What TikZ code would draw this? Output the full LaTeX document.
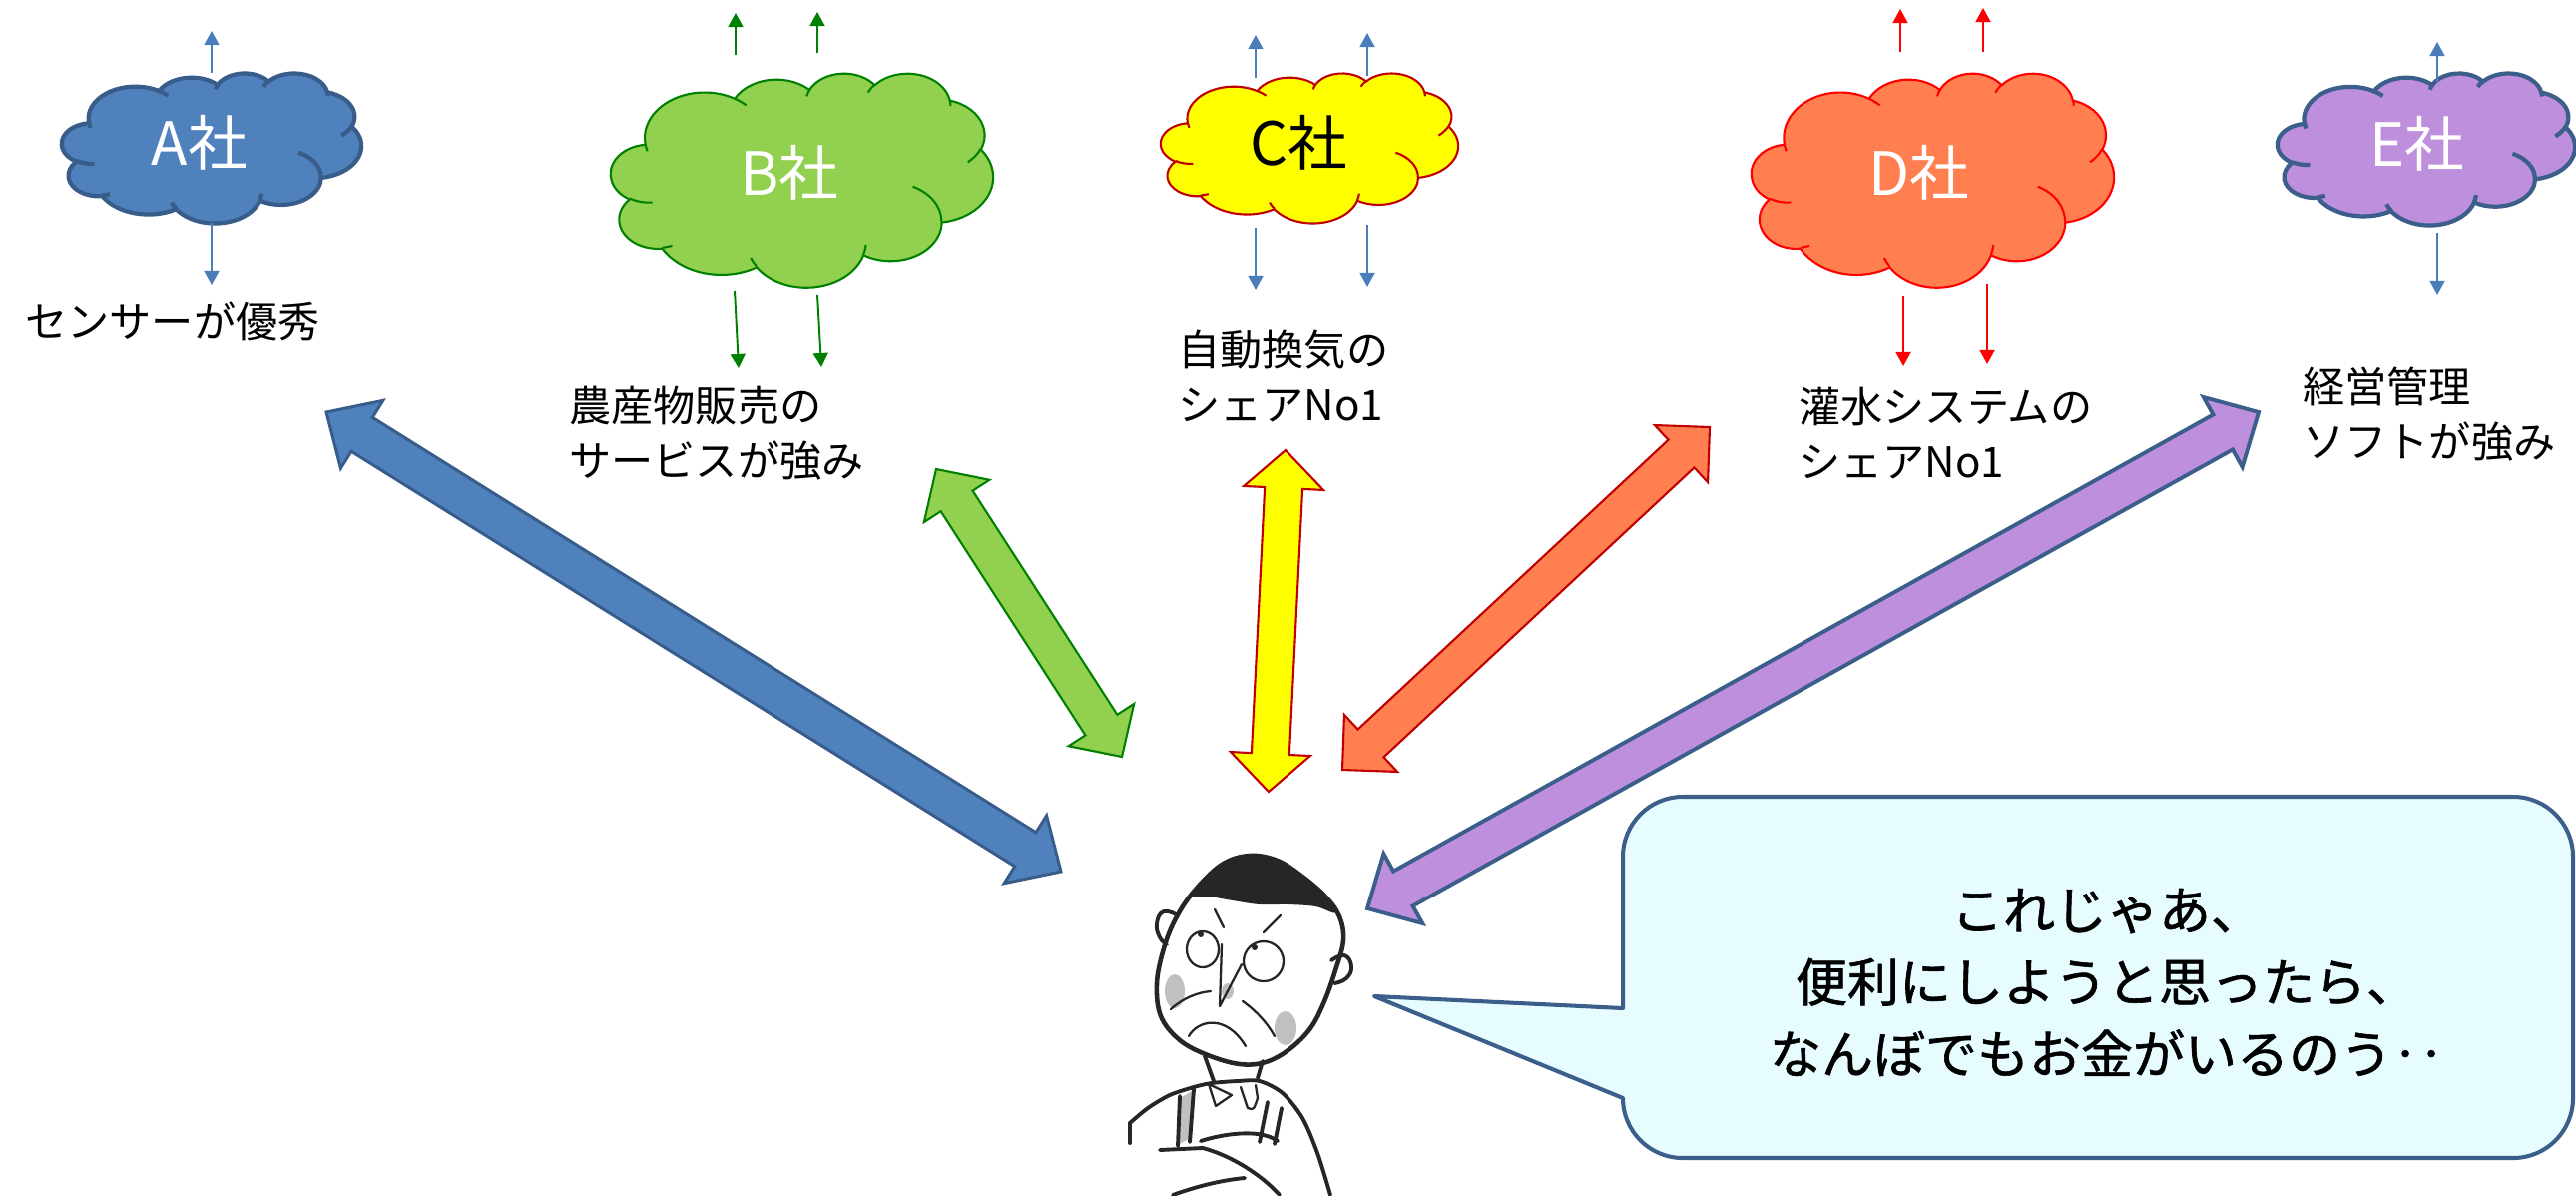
\documentclass[tikz,border=0pt]{standalone}
\usepackage{fontspec}
\newfontfamily\jp{Noto Sans CJK JP}
\newfontfamily\jpheavy[FakeBold=1.2]{Noto Sans CJK JP}
\usetikzlibrary{arrows.meta,calc}

\definecolor{blueFill}{HTML}{4F81BD}
\definecolor{blueLine}{HTML}{385D8A}
\definecolor{greenFill}{HTML}{92D050}
\definecolor{greenLine}{HTML}{008000}
\definecolor{yellowFill}{HTML}{FFFF00}
\definecolor{darkRed}{HTML}{C00000}
\definecolor{coralFill}{HTML}{FF7F50}
\definecolor{brightRed}{HTML}{FF0000}
\definecolor{lilacFill}{HTML}{BE8FDD}
\definecolor{slateLine}{HTML}{3B5F8A}
\definecolor{thinBlue}{HTML}{4A7EBB}
\definecolor{bubbleFill}{HTML}{E6FCFF}

\tikzset{
  % elliptic arc given by radii, start angle and sweep measured as ray angles
  carc/.style n args={4}{insert path={arc[x radius=#1,y radius=#2,
      start angle={atan2(#1*sin(#3),#2*cos(#3))},
      delta angle={mod(atan2(#1*sin(#3+#4),#2*cos(#3+#4))-atan2(#1*sin(#3),#2*cos(#3))+720,360)}]}},
  thinarrow/.style={line width=1.1pt,-{Triangle[length=8pt,width=8.5pt]}},
  company/.style={font=\jp\fontsize{34}{40}\selectfont,inner sep=0pt},
  strength/.style={font=\jp\fontsize{24}{31}\selectfont,align=left,inner sep=0pt,anchor=west},
  ink/.style={draw=black!85,line width=2.2pt,line cap=round,line join=round},
  fineink/.style={draw=black!85,line width=1.3pt,line cap=round,line join=round},
  wash/.style={fill=black!45,draw=none,opacity=0.55},
}

% cloud outline in a 432 x 432 box, scaled to width #4 and height #5 at top-left (#2,#3)
\newcommand\cloudshape[5]{%
  \begin{scope}[shift={(#2,#3)},xscale={#4/432},yscale={#5/432}]
    \path[#1] (39.00,143.70)
      [carc={67.53}{91.90}{-190.4875}{123.7805}]
      [carc={53.33}{72.67}{-144.1024}{89.9452}]
      [carc={43.65}{59.45}{-145.8079}{99.7230}]
      [carc={48.57}{65.95}{-130.9861}{117.2417}]
      [carc={53.33}{72.73}{-78.7089}{109.0269}]
      [carc={67.75}{92.20}{-46.2673}{130.2690}]
      [carc={57.85}{78.67}{0.6250}{114.0333}]
      [carc={67.52}{92.15}{22.4516}{115.1726}]
      [carc={77.20}{105.43}{66.2426}{75.7110}]
      [carc={43.60}{59.18}{-274.9421}{146.7356}]
      [carc={43.45}{59.45}{-246.8285}{152.5189}]
      -- cycle;
    \path[#1,fill=none]
      (46.93,261.77) [carc={43.45}{59.45}{86.7420}{26.4295}]
      (69.28,348.99) [carc={43.60}{59.18}{73.6105}{11.4475}]
      (164.78,390.90) [carc={67.52}{92.15}{137.6242}{14.0811}]
      (288.27,347.51) [carc={67.52}{92.15}{6.4533}{15.9984}]
      (341.29,229.54) [carc={57.85}{78.67}{-70.2924}{70.9174}]
      (417.98,153.54) [carc={53.33}{72.73}{30.3180}{27.7515}]
      (383.24,54.26) [carc={48.57}{65.95}{-13.7443}{14.8646}]
      (290.78,39.52) [carc={48.57}{65.95}{-149.1815}{18.1844}]
      (221.41,47.20) [carc={43.65}{59.45}{-163.4943}{17.6995}]
      (140.00,51.92) [carc={67.53}{91.90}{-66.7070}{12.3194}]
      (41.27,157.89) [carc={67.53}{91.90}{157.6544}{11.8582}];
  \end{scope}}

% block arrow with heads at both ends: style, tip, tip, shaft half width, head half width, head length (px)
\newcommand\dblarrow[6]{%
  \pgfmathsetlengthmacro\shw{#4*0.569055pt}%
  \pgfmathsetlengthmacro\hhw{#5*0.569055pt}%
  \pgfmathsetlengthmacro\hlen{#6*0.569055pt}%
  \path ($(#2)!\hlen!(#3)$) coordinate (h1) ($(#3)!\hlen!(#2)$) coordinate (h2);
  \draw[#1] (#2) -- ($(h1)!\hhw!90:(#3)$) -- ($(h1)!\shw!90:(#3)$)
    -- ($(h2)!\shw!-90:(#2)$) -- ($(h2)!\hhw!-90:(#2)$) -- (#3)
    -- ($(h2)!\hhw!90:(#2)$) -- ($(h2)!\shw!90:(#2)$)
    -- ($(h1)!\shw!-90:(#3)$) -- ($(h1)!\hhw!-90:(#3)$) -- cycle;
}

\begin{document}
\begin{tikzpicture}[x=0.02cm,y=-0.02cm]
\useasboundingbox (0,0) rectangle (2581,1197);

% ---- clouds ----
\cloudshape{fill=blueFill,draw=blueLine,line width=2.4pt}{62}{73}{300}{150}
\cloudshape{fill=greenFill,draw=greenLine,line width=1.2pt}{612}{73}{383}{214}
\cloudshape{fill=yellowFill,draw=darkRed,line width=1.2pt}{1163}{73}{298}{150}
\cloudshape{fill=coralFill,draw=brightRed,line width=1.2pt}{1755}{73}{363}{214}
\cloudshape{fill=lilacFill,draw=slateLine,line width=2.4pt}{2282}{73}{298}{152}

\node[company,text=white] (coA) at (200,143) {A社};
\node[company,text=white] (coB) at (791,173) {B社};
\node[company,text=black] (coC) at (1301,143) {C社};
\node[company,text=white] (coD) at (1923,173) {D社};
\node[company,text=white] (coE) at (2422,144) {E社};

% ---- small arrows out of each cloud ----
\coordinate (aU0) at (212,73);   \coordinate (aU1) at (212,31);
\coordinate (aD0) at (212,223);  \coordinate (aD1) at (212,285);
\draw[thinarrow,thinBlue] (aU0) -- (aU1);
\draw[thinarrow,thinBlue] (aD0) -- (aD1);

\coordinate (bU0) at (737,55);  \coordinate (bU1) at (737,13);
\coordinate (bV0) at (819,53);  \coordinate (bV1) at (819,12);
\coordinate (bD0) at (736,291); \coordinate (bD1) at (740,369);
\coordinate (bE0) at (819,295); \coordinate (bE1) at (823,368);
\draw[thinarrow,greenLine] (bU0) -- (bU1);
\draw[thinarrow,greenLine] (bV0) -- (bV1);
\draw[thinarrow,greenLine] (bD0) -- (bD1);
\draw[thinarrow,greenLine] (bE0) -- (bE1);

\coordinate (cU0) at (1258,78);  \coordinate (cU1) at (1258,35);
\coordinate (cV0) at (1370,76);  \coordinate (cV1) at (1370,33);
\coordinate (cD0) at (1258,228); \coordinate (cD1) at (1258,290);
\coordinate (cE0) at (1370,225); \coordinate (cE1) at (1370,287);
\draw[thinarrow,thinBlue] (cU0) -- (cU1);
\draw[thinarrow,thinBlue] (cV0) -- (cV1);
\draw[thinarrow,thinBlue] (cD0) -- (cD1);
\draw[thinarrow,thinBlue] (cE0) -- (cE1);

\coordinate (dU0) at (1904,52);  \coordinate (dU1) at (1904,9);
\coordinate (dV0) at (1987,52);  \coordinate (dV1) at (1987,8);
\coordinate (dD0) at (1907,296); \coordinate (dD1) at (1907,367);
\coordinate (dE0) at (1991,284); \coordinate (dE1) at (1991,365);
\draw[thinarrow,brightRed] (dU0) -- (dU1);
\draw[thinarrow,brightRed] (dV0) -- (dV1);
\draw[thinarrow,brightRed] (dD0) -- (dD1);
\draw[thinarrow,brightRed] (dE0) -- (dE1);

\coordinate (eU0) at (2442,82);  \coordinate (eU1) at (2442,42);
\coordinate (eD0) at (2442,233); \coordinate (eD1) at (2442,295);
\draw[thinarrow,thinBlue] (eU0) -- (eU1);
\draw[thinarrow,thinBlue] (eD0) -- (eD1);

% ---- strengths ----
\node[strength] (labA) at (25,322) {センサーが優秀};
\node[strength] (labB) at (570,434) {農産物販売の\\サービスが強み};
\node[strength] (labC) at (1180,377) {自動換気の\\シェアNo1};
\node[strength] (labD) at (1802,434) {灌水システムの\\シェアNo1};
\node[strength] (labE) at (2307,415) {経営管理\\ソフトが強み};

% ---- double arrows between each company and the farmer ----
\coordinate (pA) at (327,413);  \coordinate (mA) at (1063,873);
\coordinate (pB) at (938,470);  \coordinate (mB) at (1124,758);
\coordinate (pC) at (1288,451); \coordinate (mC) at (1271,793);
\coordinate (pD) at (1713,428); \coordinate (mD) at (1345,771);
\coordinate (pE) at (2263,413); \coordinate (mE) at (1370,910);
\dblarrow{fill=blueFill,draw=blueLine,line width=1.7pt}{pA}{mA}{20}{40}{42}
\dblarrow{fill=greenFill,draw=greenLine,line width=1.2pt}{pB}{mB}{19}{39}{38}
\dblarrow{fill=yellowFill,draw=darkRed,line width=1.2pt}{pC}{mC}{19}{40}{38}
\dblarrow{fill=coralFill,draw=darkRed,line width=1.2pt}{pD}{mD}{19}{39}{39}
\dblarrow{fill=lilacFill,draw=slateLine,line width=2.2pt}{pE}{mE}{20}{40}{41}

% ---- the farmer ----
\fill[wash] (1177,993) ellipse[x radius=10,y radius=17];
\fill[wash] (1288,1030) ellipse[x radius=11,y radius=17];
\fill[wash] (1230,993) ellipse[x radius=6,y radius=8];
\fill[wash] (1182,1100) -- (1196,1092) -- (1193,1140) -- (1181,1146) -- cycle;
\draw[ink,line width=2.6pt] plot[smooth cycle,tension=0.6] coordinates {(1196,893) (1178,920) (1166,950) (1159,985) (1163,1018) (1182,1042) (1210,1057) (1242,1066) (1268,1064) (1292,1051) (1313,1030) (1327,1003) (1338,972) (1346,942) (1342,918) (1328,898) (1305,878) (1280,862) (1252,857) (1224,866)};
\fill[black!85] plot[smooth cycle,tension=0.6] coordinates {(1194,896) (1212,874) (1240,860) (1268,859) (1298,872) (1322,892) (1338,914) (1318,908) (1290,906) (1262,906) (1235,902) (1212,898)};
\draw[ink] plot[smooth,tension=0.8] coordinates {(1180,917) (1166,913) (1159,925) (1162,939) (1169,946)};
\draw[ink] plot[smooth,tension=0.8] coordinates {(1334,962) (1347,957) (1354,968) (1349,980) (1337,985)};
\draw[fineink] (1205,951) ellipse[x radius=16,y radius=18];
\draw[fineink] (1266,963) ellipse[x radius=20,y radius=20];
\fill[black!85] (1203,936) circle[radius=3] (1257,949) circle[radius=3];
\draw[fineink] (1217,911) -- (1226,929);
\draw[fineink] (1266,934) -- (1283,917);
\draw[fineink] (1224,946) -- (1222,1008) -- (1244,966);
\draw[fineink] (1191,1038) .. controls (1200,1022) and (1228,1015) .. (1248,1048);
\draw[fineink] (1173,1011) .. controls (1185,1000) and (1200,994) .. (1213,993);
\draw[fineink] (1245,1003) .. controls (1258,1012) and (1270,1025) .. (1277,1038);
\draw[ink] (1207,1058) -- (1216,1083);
\draw[ink] (1265,1063) -- (1260,1080);
\draw[fineink] (1211,1086) -- (1218,1108) -- (1234,1097) -- cycle;
\draw[fineink] (1243,1089) -- (1250,1110) .. controls (1256,1112) .. (1260,1100) -- (1258,1087);
\draw[ink] plot[smooth] coordinates {(1132,1125) (1150,1110) (1172,1097) (1196,1089) (1214,1085) (1240,1083) (1262,1083) (1285,1095) (1305,1120) (1320,1155) (1333,1197)};
\draw[ink] (1182,1098) -- (1180,1148);
\draw[ink] (1196,1091) -- (1192,1144);
\draw[ink] (1270,1104) -- (1262,1144);
\draw[ink] (1284,1110) -- (1277,1146);
\draw[ink] (1162,1152) -- (1205,1150) .. controls (1235,1158) and (1265,1178) .. (1282,1197);
\draw[ink] (1203,1143) .. controls (1225,1136) and (1262,1130) .. (1280,1143);
\draw[ink] (1175,1197) .. controls (1200,1188) and (1225,1182) .. (1247,1180);
\draw[ink] (1132,1125) -- (1132,1145);

% ---- speech bubble ----
\coordinate (tailtip) at (1377,998);
\draw[fill=bubbleFill,draw=slateLine,line width=2.3pt,line join=round]
  (1626,1010) -- (1626,858) arc[start angle=180,end angle=270,radius=60]
  -- (2518,798) arc[start angle=270,end angle=360,radius=60]
  -- (2578,1100) arc[start angle=0,end angle=90,radius=60]
  -- (1686,1160) arc[start angle=90,end angle=180,radius=60]
  -- (tailtip) -- cycle;
\node[font=\jpheavy\fontsize{29.6}{41}\selectfont,align=center,inner sep=0pt] (speech) at (2111,984)
  {これじゃあ、\\便利にしようと思ったら、\\なんぼでもお金がいるのう‥};
\end{tikzpicture}
\end{document}
